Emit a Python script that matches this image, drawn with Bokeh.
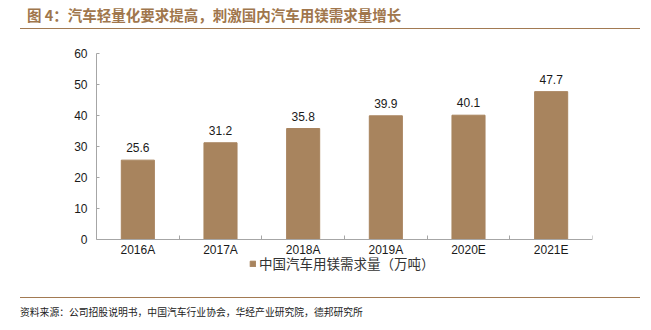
from bokeh.plotting import figure
from bokeh.models import (Range1d, FixedTicker, Legend, LegendItem, ColumnDataSource,
                          LabelSet, Div)
from bokeh.layouts import column
from bokeh.core.properties import value
from bokeh.embed import file_html
from bokeh.resources import INLINE

categories = ["2016A", "2017A", "2018A", "2019A", "2020E", "2021E"]
values = [25.6, 31.2, 35.8, 39.9, 40.1, 47.7]
y_ticks = [0, 10, 20, 30, 40, 50, 60]
series_name = "中国汽车用镁需求量（万吨）"
title_text = "图 4：汽车轻量化要求提高，刺激国内汽车用镁需求量增长"
source_text = "资料来源：公司招股说明书，中国汽车行业协会，华经产业研究院，德邦研究所"

W = 651
TITLE_H = 31
FIG_H = 266
SRC_H = 33
FL, FR = 96, 592
Y0_PX = 239 - TITLE_H       # pixel row of y = 0 inside the figure
Y60_PX = 53 - TITLE_H       # pixel row of y = 60 inside the figure
BOTTOM_BORDER = 24
FRAME_BOTTOM = FIG_H - BOTTOM_BORDER
px_per_unit = (Y0_PX - Y60_PX) / (y_ticks[-1] - y_ticks[0])
y_start = y_ticks[0] - (FRAME_BOTTOM - Y0_PX) / px_per_unit

BROWN = "#a8845e"
TITLE_C = "#a0764c"
LINE_C = "#a27a52"
TXT = "#1a1a1a"
AX = "#a6a6a6"

n = len(categories)
xs = [i + 0.5 for i in range(n)]
labels_txt = [f"{v:.1f}" for v in values]
src = ColumnDataSource(dict(x=xs, top=values, lab=labels_txt))

p = figure(width=W, height=FIG_H, output_backend="svg", toolbar_location=None,
           x_range=Range1d(0, n), y_range=Range1d(y_start, y_ticks[-1]),
           min_border_left=FL, min_border_right=W - FR, min_border_top=Y60_PX,
           min_border_bottom=BOTTOM_BORDER, margin=0)
p.outline_line_color = None
p.grid.visible = False
p.background_fill_color = "white"
p.border_fill_color = "white"

r = p.vbar(x="x", top="top", width=0.4, bottom=0, source=src,
           fill_color=BROWN, line_color=BROWN)

p.add_layout(LabelSet(x="x", y="top", text="lab", source=src, y_offset=8,
                      text_align="center", text_baseline="bottom",
                      text_font=value("Liberation Sans"), text_font_size="12px",
                      text_color=TXT))

# x axis sits at y = 0: labels at centres, ticks at category boundaries
xa = p.xaxis[0]
xa.fixed_location = 0
xa.ticker = FixedTicker(ticks=xs, minor_ticks=list(range(n + 1)))
xa.major_label_overrides = {x: c for x, c in zip(xs, categories)}
xa.major_tick_line_color = None
xa.minor_tick_line_color = AX
xa.minor_tick_in = 4
xa.minor_tick_out = 0
xa.axis_line_color = AX
xa.major_label_text_font = "Liberation Sans"
xa.major_label_text_font_size = "12px"
xa.major_label_text_color = TXT
xa.major_label_standoff = -3

ya = p.yaxis[0]
ya.bounds = (y_ticks[0], y_ticks[-1])
ya.ticker = FixedTicker(ticks=y_ticks)
ya.axis_line_color = AX
ya.major_tick_line_color = AX
ya.major_tick_in = 3
ya.major_tick_out = 0
ya.minor_tick_line_color = None
ya.major_label_text_font = "Liberation Sans"
ya.major_label_text_font_size = "12px"
ya.major_label_text_color = TXT
ya.major_label_standoff = 9

legend = Legend(items=[LegendItem(label=series_name, renderers=[r])],
                location=(249 - FL, 0), orientation="horizontal",
                label_text_font="Noto Sans CJK SC", label_text_font_size="13.5px",
                label_text_color="#333333", glyph_width=7, glyph_height=7,
                border_line_color=None, background_fill_alpha=0,
                padding=0, margin=0, label_standoff=3, label_height=14)
p.add_layout(legend, "center")

title_div = Div(
    text=(f'<div style="margin-left:20px;width:620px;height:{TITLE_H - 2}px;'
          f'border-bottom:1.5px solid {LINE_C};box-sizing:border-box;'
          f'padding-left:7px;padding-top:5px;font-family:\'Noto Sans CJK SC\';'
          f'font-weight:bold;font-size:14.5px;line-height:20px;color:{TITLE_C};'
          f'white-space:nowrap;">{title_text}</div>'),
    width=W, height=TITLE_H, margin=0)

src_div = Div(
    text=(f'<div style="margin-left:20px;width:620px;height:{SRC_H}px;'
          f'border-top:1.5px solid {LINE_C};box-sizing:border-box;'
          f'padding-top:7px;font-family:\'Noto Sans CJK SC\';'
          f'font-size:9.8px;line-height:14px;color:#222222;'
          f'white-space:nowrap;">{source_text}</div>'),
    width=W, height=SRC_H, margin=0)

layout = column(title_div, p, src_div, spacing=0, margin=0)

open("out.html", "w").write(file_html(layout, INLINE))
